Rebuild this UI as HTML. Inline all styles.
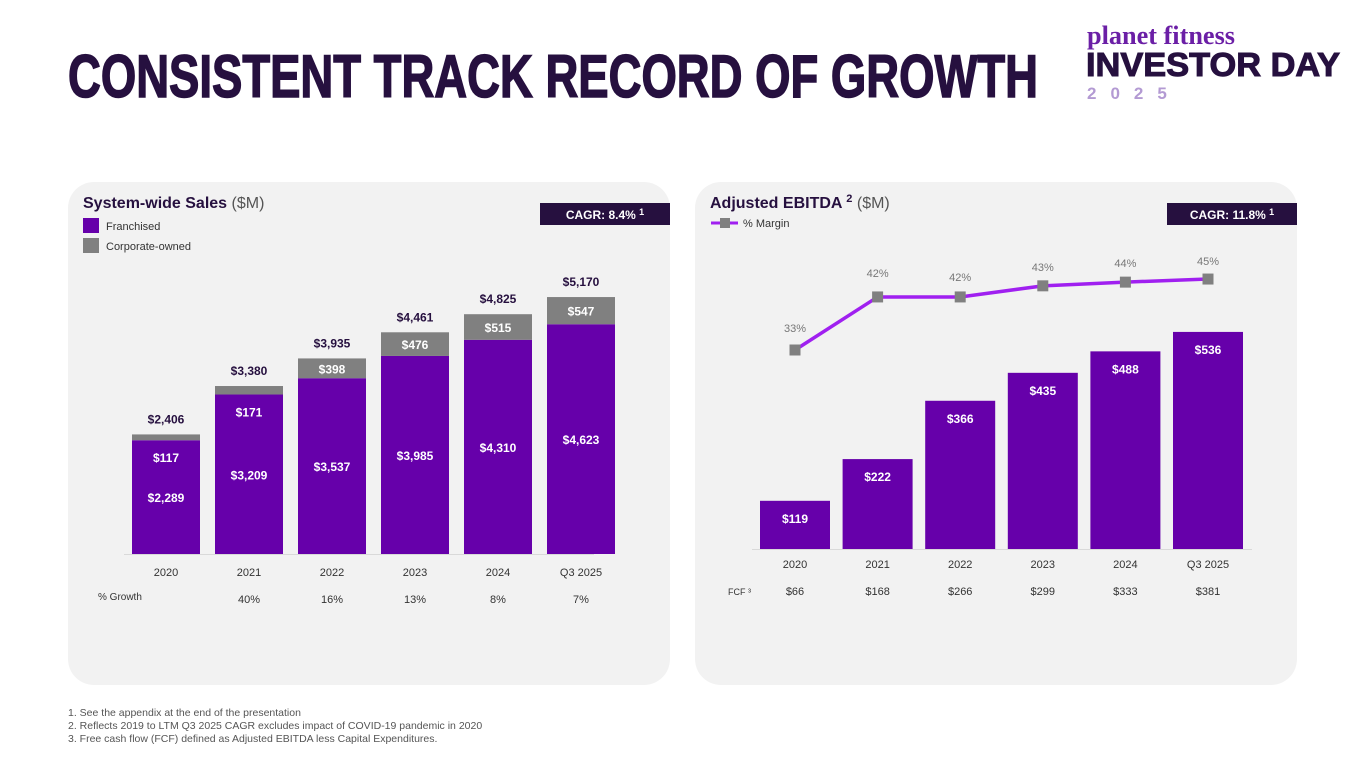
<!DOCTYPE html>
<html><head><meta charset="utf-8"><style>
html,body{margin:0;padding:0;background:#fff;}
svg{display:block;font-family:"Liberation Sans",sans-serif;}
</style></head><body>
<svg id="root" width="1365" height="768" viewBox="0 0 1365 768" xmlns="http://www.w3.org/2000/svg">
<text x="68" y="97" font-size="60" font-weight="bold" fill="#26103f" stroke="#26103f" stroke-width="1.5" textLength="970" lengthAdjust="spacingAndGlyphs">CONSISTENT TRACK RECORD OF GROWTH</text>
<g>
<text x="1087" y="44" font-size="26" font-weight="bold" font-family="Liberation Serif,serif" fill="#6b1fa6" textLength="148" lengthAdjust="spacingAndGlyphs">planet fitness</text>
<text x="1086" y="76" font-size="33" font-weight="bold" fill="#26103f" stroke="#26103f" stroke-width="1" textLength="254" lengthAdjust="spacingAndGlyphs">INVESTOR DAY</text>
<text x="1087" y="99" font-size="17" font-weight="bold" fill="#b39ad3" letter-spacing="14">2025</text>
</g>
<rect x="68" y="182" width="602" height="503" rx="26" fill="#f2f2f2"/>
<rect x="695" y="182" width="602" height="503" rx="26" fill="#f2f2f2"/>
<text x="83" y="208" font-size="16" font-weight="bold" fill="#26103f">System-wide Sales <tspan font-weight="normal" fill="#555">($M)</tspan></text>
<rect x="83" y="218" width="16" height="15" fill="#6600aa"/>
<text x="106" y="230" font-size="11" fill="#333">Franchised</text>
<rect x="83" y="238" width="16" height="15" fill="#808080"/>
<text x="106" y="250" font-size="11" fill="#333">Corporate-owned</text>
<rect x="540" y="203" width="130" height="22" fill="#26103f"/>
<text x="605" y="219" font-size="12" font-weight="bold" fill="#fff" text-anchor="middle">CAGR: 8.4% <tspan font-size="9" dy="-4">1</tspan></text>
<text x="710" y="208" font-size="16" font-weight="bold" fill="#26103f">Adjusted EBITDA <tspan font-size="11" dy="-6">2</tspan><tspan dy="6" font-weight="normal" fill="#555"> ($M)</tspan></text>
<line x1="711" y1="223" x2="738" y2="223" stroke="#a020f0" stroke-width="3"/>
<rect x="720" y="218" width="10" height="10" fill="#808080"/>
<text x="743" y="227" font-size="11" fill="#333">% Margin</text>
<rect x="1167" y="203" width="130" height="22" fill="#26103f"/>
<text x="1232" y="219" font-size="12" font-weight="bold" fill="#fff" text-anchor="middle">CAGR: 11.8% <tspan font-size="9" dy="-4">1</tspan></text>
<g id="left"></g><g id="right"></g>
<g font-size="10.5" fill="#555">
<text x="68" y="716">1. See the appendix at the end of the presentation</text>
<text x="68" y="729">2. Reflects 2019 to LTM Q3 2025 CAGR excludes impact of COVID-19 pandemic in 2020</text>
<text x="68" y="742">3. Free cash flow (FCF) defined as Adjusted EBITDA less Capital Expenditures.</text>
</g>
</svg>
<script>
const salesCats = ["2020","2021","2022","2023","2024","Q3 2025"];
const franchised = [2289,3209,3537,3985,4310,4623];
const corporate = [117,171,398,476,515,547];
const totals = [2406,3380,3935,4461,4825,5170];
const growth = ["","40%","16%","13%","8%","7%"];
const ebitdaCats = ["2020","2021","2022","2023","2024","Q3 2025"];
const ebitda = [119,222,366,435,488,536];
const margin = [33.0,41.6,41.6,43.4,44.0,44.5];
const marginLabels = ["33%","42%","42%","43%","44%","45%"];
const fcf = ["$66","$168","$266","$299","$333","$381"];

const NS="http://www.w3.org/2000/svg";
function mk(p,tag,a,txt){const e=document.createElementNS(NS,tag);for(const k in a)e.setAttribute(k,a[k]);if(txt!==undefined)e.textContent=txt;p.appendChild(e);return e;}
const fmt=v=>"$"+v.toLocaleString("en-US");

// left chart
const L=document.getElementById('left');
const lBase=554, lx=i=>166+i*83, ly=v=>lBase-v*0.0497, bw=68;
let ax=mk(L,'line',{x1:124,x2:594,y1:lBase+0.5,y2:lBase+0.5,stroke:'#d9d9d9'});


salesCats.forEach((c,i)=>{
  const x=lx(i), fT=ly(franchised[i]), cT=ly(franchised[i]+corporate[i]);
  let r=mk(L,'rect',{x:x-bw/2,y:fT,width:bw,height:lBase-fT,fill:'#6600aa'});
  
  
  let g=mk(L,'rect',{x:x-bw/2,y:cT,width:bw,height:fT-cT,fill:'#808080'});
  
  
  let fl=mk(L,'text',{x:x,y:(fT+lBase)/2+5,'font-size':12,'font-weight':'bold',fill:'#fff','text-anchor':'middle'},fmt(franchised[i]));
  
  
  const cy=(fT-cT)>=17?(cT+fT)/2+5:fT+22;
  let cl=mk(L,'text',{x:x,y:cy,'font-size':12,'font-weight':'bold',fill:'#fff','text-anchor':'middle'},fmt(corporate[i]));
  
  
  let tl=mk(L,'text',{x:x,y:cT-11,'font-size':12,'font-weight':'bold',fill:'#26103f','text-anchor':'middle'},fmt(totals[i]));
  
  
  let xl=mk(L,'text',{x:x,y:576,'font-size':11,fill:'#333','text-anchor':'middle'},c);
  
  
  let gl=mk(L,'text',{x:x,y:603,'font-size':11,fill:'#333','text-anchor':'middle'},growth[i]);
  
  
});
let gh=mk(L,'text',{x:98,y:600,'font-size':10,fill:'#333'},'% Growth');



// right chart
const R=document.getElementById('right');
const rBase=549, rx=i=>795+i*82.6, ry=v=>rBase-v*0.405, my=m=>350-(m-33)*6.17, rw=70;
let ax2=mk(R,'line',{x1:752,x2:1252,y1:rBase+0.5,y2:rBase+0.5,stroke:'#d9d9d9'});


ebitdaCats.forEach((c,i)=>{
  const x=rx(i), t=ry(ebitda[i]);
  let r=mk(R,'rect',{x:x-rw/2,y:t,width:rw,height:rBase-t,fill:'#6600aa'});
  
  
  let l=mk(R,'text',{x:x,y:t+22,'font-size':12,'font-weight':'bold',fill:'#fff','text-anchor':'middle'},fmt(ebitda[i]));
  
  
  let xl=mk(R,'text',{x:x,y:568,'font-size':11,fill:'#333','text-anchor':'middle'},c);
  
  
  let fl=mk(R,'text',{x:x,y:595,'font-size':11,fill:'#333','text-anchor':'middle'},fcf[i]);
  
  
});
let fh=mk(R,'text',{x:728,y:595,'font-size':9,fill:'#333'},'FCF ³');


let pl=mk(R,'polyline',{points:margin.map((m,i)=>rx(i)+','+my(m)).join(' '),fill:'none',stroke:'#a020f0','stroke-width':3.5});


margin.forEach((m,i)=>{
  let s=mk(R,'rect',{x:rx(i)-5.5,y:my(m)-5.5,width:11,height:11,fill:'#808080'});
  
  
  let t=mk(R,'text',{x:rx(i),y:my(m)-[18,20,16,15,15,14][i],'font-size':11,fill:'#777','text-anchor':'middle'},marginLabels[i]);
  
  
});
</script>
</body></html>
